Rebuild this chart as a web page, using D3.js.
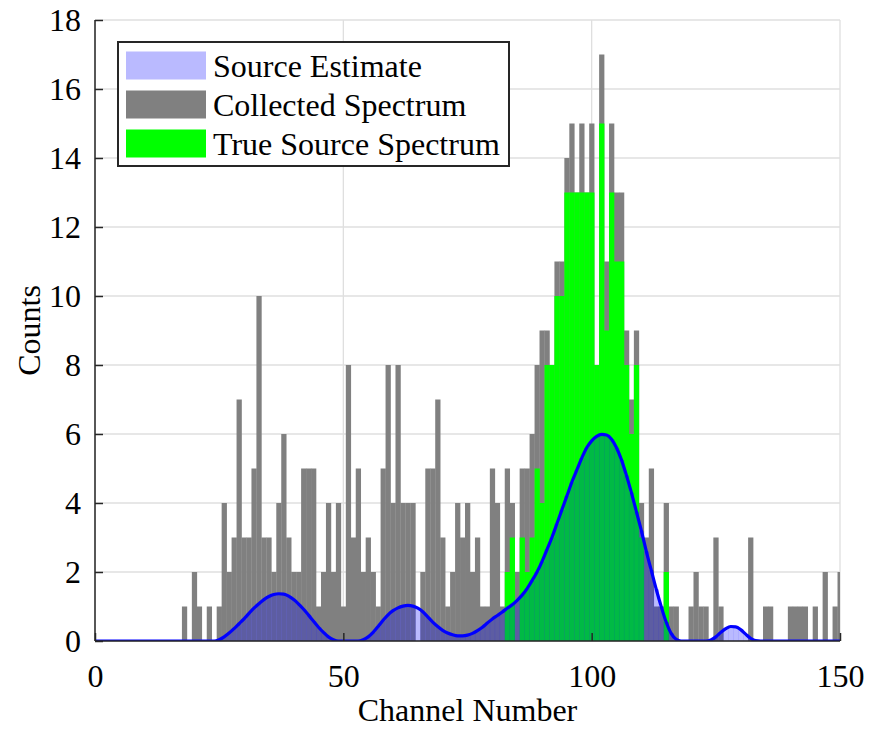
<!DOCTYPE html>
<html lang="en">
  <head>
    <meta charset="utf-8">
    <title>Source Estimate vs Collected Spectrum</title>
    <script src="https://d3js.org/d3.v7.min.js"></script>
    <style>
      body { margin: 0; background: white; overflow: hidden; }
      text { font-family: "Liberation Serif", "Times New Roman", serif; fill: #000; }
    </style>
  </head>
  <body>
    <script>

      // channel-by-channel counts, index = channel number 0..150
      var collected = [
        0,0,0,0,0,0,0,0,0,0,  0,0,0,0,0,0,0,0,1,0,
        2,1,0,1,0,1,4,2,3,7,  3,3,5,10,3,3,2,4,6,3,
        2,2,5,5,5,1,2,4,2,4,  1,8,3,5,2,3,2,1,5,8,
        4,8,4,4,4,0,2,5,5,7,  3,1,2,4,3,4,2,3,1,1,
        5,4,1,5,4,2,5,5,6,8,  9,9,8,11,11,14,15,13,15,13,
        15,8,17,11,15,13,13,9,7,9,  4,3,5,1,1,4,1,1,0,0,
        1,2,1,1,0,3,1,0,0,0,  0,0,3,0,0,1,1,0,0,0,
        1,1,1,1,0,1,0,2,0,1,  2
      ];

      var trueSource = [
        0,0,0,0,0,0,0,0,0,0,  0,0,0,0,0,0,0,0,0,0,
        0,0,0,0,0,0,0,0,0,0,  0,0,0,0,0,0,0,0,0,0,
        0,0,0,0,0,0,0,0,0,0,  0,0,0,0,0,0,0,0,0,0,
        0,0,0,0,0,0,0,0,0,0,  0,0,0,0,0,0,0,0,0,0,
        0,0,0,2,3,0,3,2,3,5,  4,8,8,10,10,13,13,13,13,13,
        13,8,15,9,13,11,11,8,6,8,  3,0,0,0,0,2,0,0,0,0,
        0,0,0,0,0,0,0,0,0,0,  0,0,0,0,0,0,0,0,0,0,
        0,0,0,0,0,0,0,0,0,0,  0
      ];

      var estimate = [
        0,0,0,0,0,0,0,0,0,0,  0,0,0,0,0,0,0,0,0,0,
        0,0,0,0,0,0.04,0.12,0.23,0.36,0.5,
        0.64,0.8,0.95,1.08,1.2,1.29,1.35,1.37,1.36,1.3,
        1.2,1.07,0.92,0.75,0.57,0.4,0.25,0.12,0.04,0,
        0,0,0,0,0.04,0.12,0.25,0.42,0.6,0.76,
        0.88,0.96,1.01,1.03,1.01,0.95,0.85,0.7,0.55,0.42,
        0.31,0.23,0.18,0.15,0.15,0.17,0.22,0.3,0.4,0.52,
        0.64,0.74,0.84,0.95,1.05,1.18,1.33,1.52,1.75,2.0,
        2.3,2.65,3.0,3.4,3.8,4.2,4.6,4.95,5.3,5.6,
        5.8,5.93,5.99,5.97,5.85,5.6,5.25,4.8,4.3,3.75,
        3.2,2.6,2.05,1.5,1.0,0.55,0.22,0.05,0,0,
        0,0,0,0,0.03,0.12,0.25,0.36,0.42,0.41,
        0.33,0.2,0.08,0.01,0,0,0,0,0,0,
        0,0,0,0,0,0,0,0,0,0,  0
      ];

      var xTicks = [0, 50, 100, 150];
      var yTicks = [0, 2, 4, 6, 8, 10, 12, 14, 16, 18];
      var legendLabels = ["Source Estimate", "Collected Spectrum", "True Source Spectrum"];
      var legendColors = ["#babaff", "#808080", "#00ff00"];

      var w = 871;
      var h = 729;
      var margin = {top: 20, right: 31, bottom: 88, left: 95};

      var xScale = d3.scaleLinear().domain([0, 150]).range([margin.left, w - margin.right]);
      var yScale = d3.scaleLinear().domain([0, 18]).range([h - margin.bottom, margin.top]);

      var svg = d3.select("body")
        .append("svg")
          .attr("width", w)
          .attr("height", h)
          .style("display", "block");

      svg.append("defs").append("clipPath")
          .attr("id", "plotclip")
        .append("rect")
          .attr("x", xScale(0))
          .attr("y", yScale(18))
          .attr("width", xScale(150) - xScale(0))
          .attr("height", yScale(0) - yScale(18));

      // grid
      var grid = svg.append("g").attr("id", "grid");
      grid.selectAll("line.gx")
        .data(xTicks)
        .enter().append("line")
          .attr("x1", d => xScale(d)).attr("x2", d => xScale(d))
          .attr("y1", yScale(0)).attr("y2", yScale(18))
          .attr("stroke", "#dfdfdf").attr("stroke-width", 1.3);
      grid.selectAll("line.gy")
        .data(yTicks)
        .enter().append("line")
          .attr("x1", xScale(0)).attr("x2", xScale(150))
          .attr("y1", d => yScale(d)).attr("y2", d => yScale(d))
          .attr("stroke", "#dfdfdf").attr("stroke-width", 1.3);

      var plot = svg.append("g").attr("clip-path", "url(#plotclip)");

      function drawBars(values, fill, opacity) {
        var data = values.map((v, i) => ({ch: i, v: v})).filter(d => d.v > 0);
        plot.append("g")
          .selectAll("rect")
          .data(data)
          .enter().append("rect")
            .attr("x", d => xScale(d.ch - 0.5))
            .attr("width", d => xScale(d.ch + 0.5) - xScale(d.ch - 0.5) + 0.3)
            .attr("y", d => yScale(d.v))
            .attr("height", d => yScale(0) - yScale(d.v))
            .attr("fill", fill)
            .attr("fill-opacity", opacity);
      }

      drawBars(collected, "#808080", 1);
      drawBars(trueSource, "#00ff00", 1);
      drawBars(estimate, "#0000ff", 0.27);

      var line = d3.line()
        .x((d, i) => xScale(i))
        .y(d => yScale(d))
        .curve(d3.curveMonotoneX);

      plot.append("path")
        .datum(estimate)
        .attr("d", line)
        .attr("fill", "none")
        .attr("stroke", "#0000ff")
        .attr("stroke-width", 3.2);

      // axes (ticks inside, box off)
      var xAxis = d3.axisBottom(xScale).tickValues(xTicks).tickSize(-8).tickPadding(23);
      var yAxis = d3.axisLeft(yScale).tickValues(yTicks).tickSize(-8).tickPadding(14);

      var gx = svg.append("g")
        .attr("transform", `translate(0, ${yScale(0)})`)
        .call(xAxis);
      var gy = svg.append("g")
        .attr("transform", `translate(${xScale(0)}, 0)`)
        .call(yAxis);

      [gx, gy].forEach(function(g) {
        g.select(".domain").attr("stroke", "#262626").attr("stroke-width", 1.5);
        g.selectAll(".tick line").attr("stroke", "#262626").attr("stroke-width", 1.5);
        g.selectAll(".tick text")
          .attr("font-size", 32)
          .attr("font-family", "Liberation Serif")
          .attr("fill", "#262626");
      });
      gx.select(".domain").attr("d", `M${xScale(0)},0H${xScale(150)}`);
      gy.select(".domain").attr("d", `M0,${yScale(0)}V${yScale(18)}`);
      gx.selectAll(".tick text").attr("dy", "0.71em");

      svg.append("text")
        .attr("x", (xScale(0) + xScale(150)) / 2)
        .attr("y", 721)
        .attr("text-anchor", "middle")
        .attr("font-size", 32)
        .attr("fill", "#262626")
        .text("Channel Number");

      svg.append("text")
        .attr("transform", `translate(40, ${(yScale(0) + yScale(18)) / 2}) rotate(-90)`)
        .attr("text-anchor", "middle")
        .attr("font-size", 32)
        .attr("fill", "#262626")
        .text("Counts");

      // legend
      var legend = svg.append("g").attr("id", "legend");
      legend.append("rect")
        .attr("x", 118).attr("y", 42)
        .attr("width", 391).attr("height", 124)
        .attr("fill", "white")
        .attr("stroke", "#262626")
        .attr("stroke-width", 2);

      var rows = legend.selectAll("g.row")
        .data(legendLabels)
        .enter().append("g")
          .attr("transform", (d, i) => `translate(0, ${65.5 + i * 39})`);
      rows.append("rect")
        .attr("x", 126).attr("y", -14)
        .attr("width", 80).attr("height", 28)
        .attr("fill", (d, i) => legendColors[i]);
      rows.append("text")
        .attr("x", 213).attr("y", 11)
        .attr("font-size", 32)
        .text(d => d);

    </script>
  </body>
</html>
